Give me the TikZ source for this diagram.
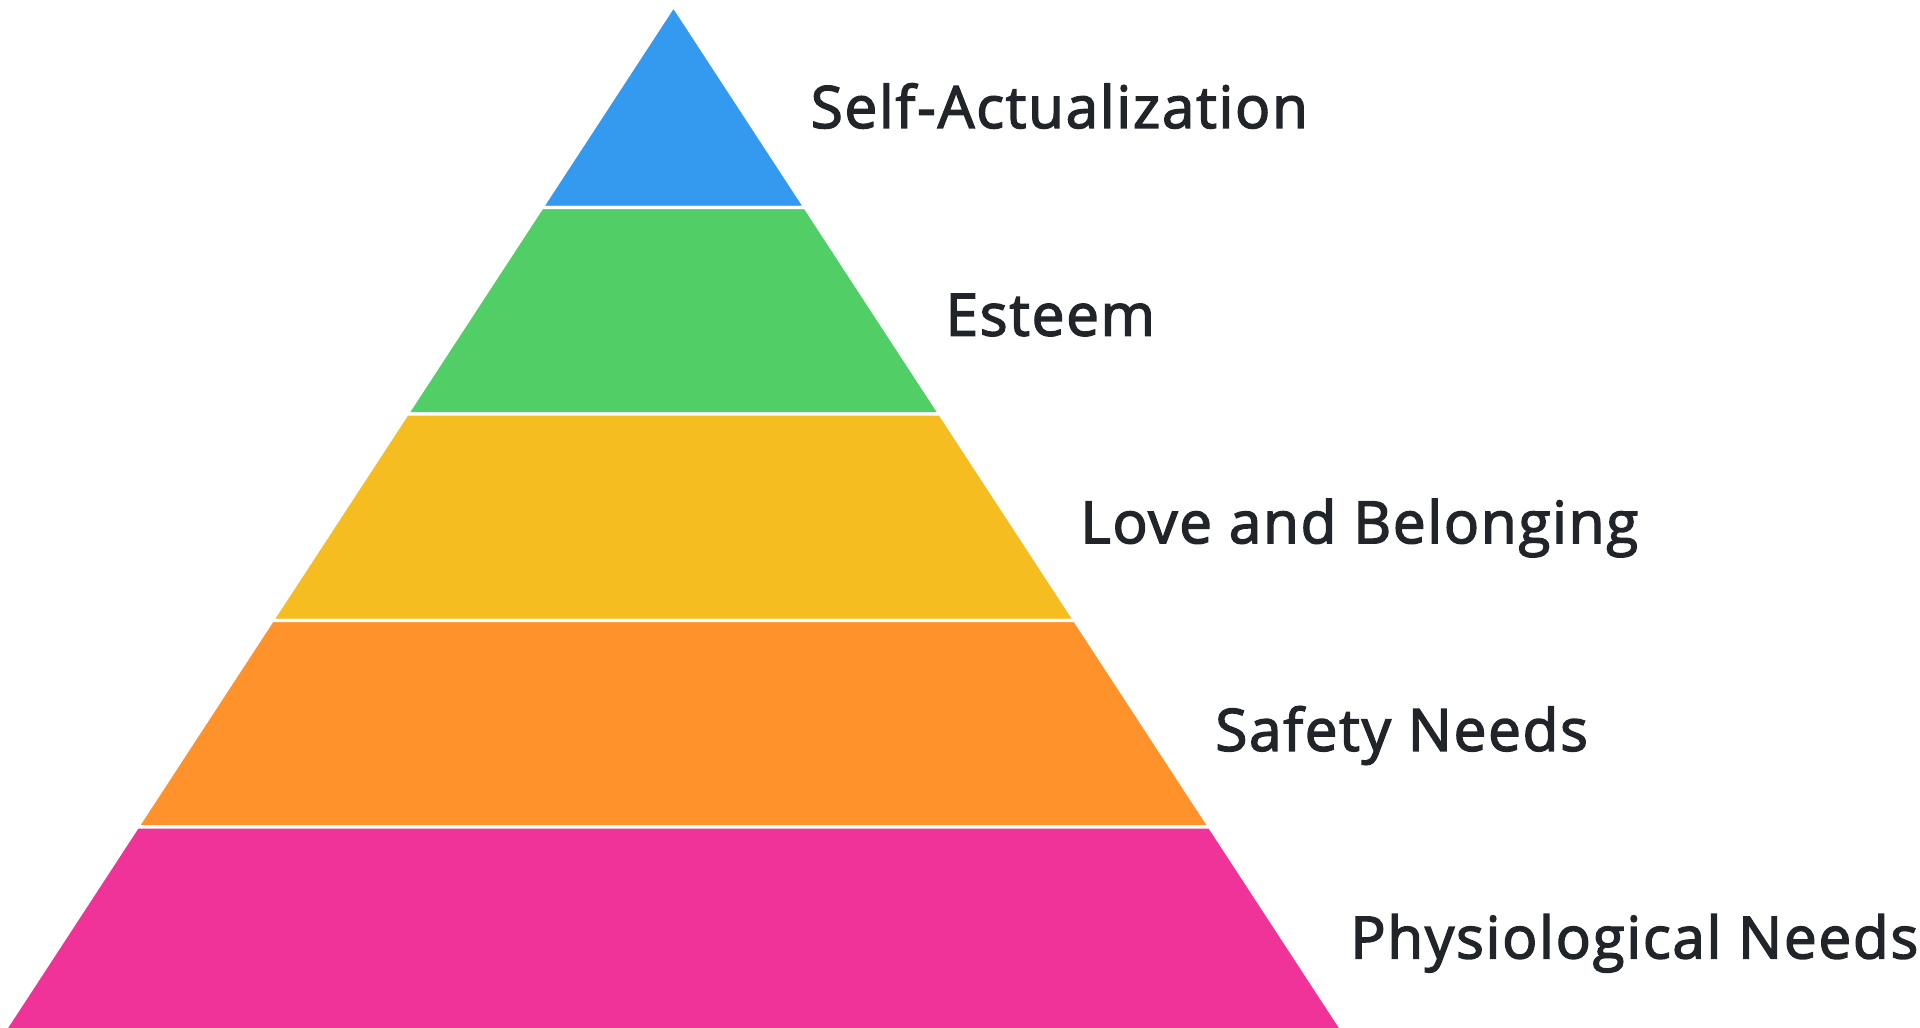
\documentclass[tikz,border=0pt]{standalone}
\usepackage{fontspec}
\IfFontExistsTF{Open Sans SemiBold}
  {\setmainfont{Open Sans SemiBold}[LetterSpace=1.5]}
  {\setmainfont{Open Sans}[FakeBold=2.5,LetterSpace=3]}
\usepackage{tikz}
\usetikzlibrary{calc}

\definecolor{selfblue}{HTML}{339AF0}
\definecolor{esteemgreen}{HTML}{51CF66}
\definecolor{loveyellow}{HTML}{F5BD1F}
\definecolor{safeorange}{HTML}{FF922B}
\definecolor{physpink}{HTML}{F03399}
\definecolor{labelgray}{HTML}{212529}

\tikzset{
  level/.style={fill=#1, draw=white, line width=0.9pt, line join=miter},
  lvllabel/.style={anchor=base west, inner sep=0pt, text=labelgray,
    font=\fontsize{16.6}{20}\selectfont}
}

\begin{document}
\begin{tikzpicture}
    % picture 19.2 x 10.27, apex at (6.735,10.21), slope 0.653
    \useasboundingbox (0,0) rectangle (19.2,10.27);
    \clip (0,0) rectangle (19.2,10.27);

    \coordinate (apex) at (6.735,10.21);

    % levels: top y / bottom y / colour / name / label
    \foreach \yt/\yb/\col/\nm/\txt [count=\k from 0] in {
        10.21/8.195/selfblue/self/Self-Actualization,
        8.195/6.13/esteemgreen/esteem/Esteem,
        6.13/4.065/loveyellow/love/Love and Belonging,
        4.065/2.0/safeorange/safety/Safety Needs,
        2.0/-0.07/physpink/phys/Physiological Needs}{
        \pgfmathsetmacro{\wt}{0.653*(10.21-\yt)}
        \pgfmathsetmacro{\wb}{0.653*(10.21-\yb)}
        \draw[level=\col] ($(apex)+(-\wt,\yt-10.21)$) -- ($(apex)+(\wt,\yt-10.21)$)
            -- ($(apex)+(\wb,\yb-10.21)$) -- ($(apex)+(-\wb,\yb-10.21)$) -- cycle;
        % labels: baseline 8.99 - 2.076k
        \node[lvllabel] (\nm) at ($(apex)+(\wb+0.05,{8.99-2.076*\k-10.21})$) {\txt};
    }
\end{tikzpicture}
\end{document}
